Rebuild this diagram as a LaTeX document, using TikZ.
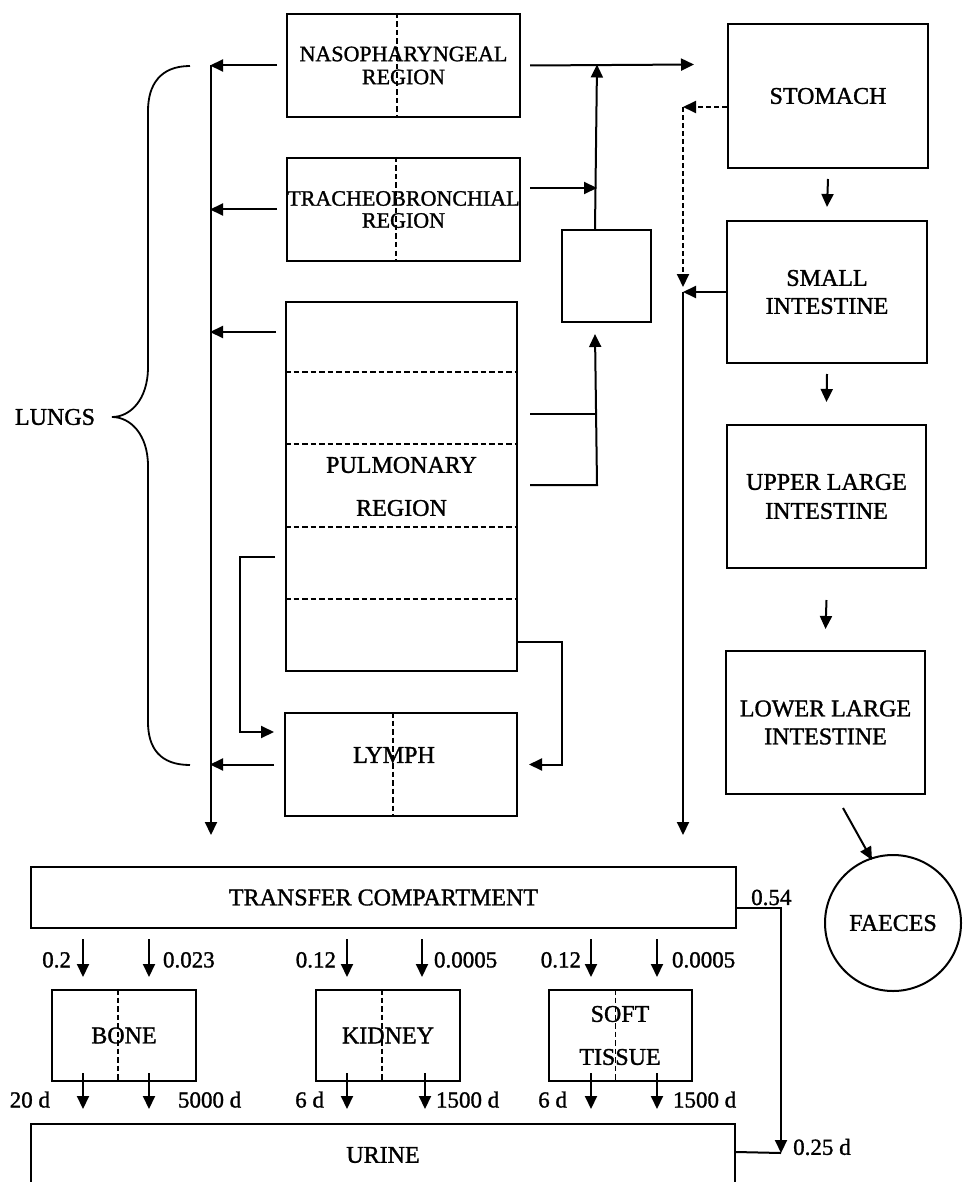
\documentclass[tikz,border=0pt]{standalone}
\usepackage{fontspec}
\setmainfont[FakeBold=1.3]{Liberation Serif}
\usetikzlibrary{arrows.meta,calc}
\begin{document}
\begin{tikzpicture}[x=1pt,y=-1pt,
  every node/.style={inner sep=0pt},
  box/.style={draw, line width=2pt, rectangle, inner sep=0pt, align=center, font=\fontsize{24}{28}\selectfont},
  ctext/.style={align=center, font=\fontsize{24}{28}\selectfont},
  arr/.style={line width=2pt, -{Triangle[length=13pt,width=12pt]}},
  conn/.style={line width=2pt},
  div/.style={line width=1.8pt, dash pattern=on 5.5pt off 3pt},
  darr/.style={arr, dash pattern=on 5pt off 3pt},
  lbl/.style={font=\fontsize{23}{27}\selectfont},
]
\path[use as bounding box] (0,0) rectangle (962,1182);
\clip (0,0) rectangle (962,1182);

% ---- lung compartments
\node[box, minimum width=233pt, minimum height=103pt, font=\fontsize{22}{23}\selectfont] (naso) at (403.5,65.5) {NASOPHARYNGEAL\\REGION};
\node[box, minimum width=233pt, minimum height=103pt, font=\fontsize{22}{22}\selectfont] (trach) at (403.5,209.5) {TRACHEOBRONCHIAL\\REGION};
\node[box, minimum width=231pt, minimum height=369pt, font=\fontsize{24}{43}\selectfont] (pulm) at (401.5,486.5) {PULMONARY\\REGION};
\node[box, minimum width=232pt, minimum height=103pt] (lymph) at (401,764.5) {};
\node[ctext] (lymphT) at ($(lymph.center)+(-7,-9.5)$) {LYMPH};
\node[box, minimum width=89pt, minimum height=92pt] (sbox) at (606.5,276) {};

% ---- GI tract
\node[box, minimum width=200pt, minimum height=144pt] (stomach) at (828,96) {STOMACH};
\node[box, minimum width=200pt, minimum height=142pt] (smallint) at (827,292) {SMALL\\INTESTINE};
\node[box, minimum width=199pt, minimum height=143pt, font=\fontsize{24}{29}\selectfont] (upper) at (826.5,496.5) {UPPER LARGE\\INTESTINE};
\node[box, minimum width=199pt, minimum height=143pt] (lower) at (825.5,722.5) {LOWER LARGE\\INTESTINE};
\node[box, circle, minimum size=136pt] (faeces) at (893,923) {FAECES};

% ---- systemic
\node[box, minimum width=705pt, minimum height=61pt] (transfer) at (383.5,897.5) {TRANSFER COMPARTMENT};
\node[box, minimum width=144pt, minimum height=91pt] (bone) at (124,1035.5) {BONE};
\node[box, minimum width=144pt, minimum height=91pt] (kidney) at (388,1035.5) {KIDNEY};
\node[box, minimum width=143pt, minimum height=91pt, font=\fontsize{24}{43}\selectfont] (soft) at (620,1035.5) {SOFT\\TISSUE};
\node[box, minimum width=704pt, minimum height=62pt] (urine) at (383,1155) {URINE};

% ---- dividers
\draw[div] ($(naso.north)+(-6.5,0)$) -- ($(naso.south)+(-6.5,0)$);
\draw[div] ($(trach.north)+(-7.5,0)$) -- ($(trach.south)+(-7.5,0)$);
\draw[div] ($(lymph.north)+(-8,0)$) -- ($(lymph.south)+(-8,0)$);
\foreach \d in {71,143,226,298}
  \draw[div] ($(pulm.north west)+(0,\d)$) -- ($(pulm.north east)+(0,\d)$);
\draw[div] ($(bone.north)+(-6,0)$) -- ($(bone.south)+(-6,0)$);
\draw[div] ($(kidney.north)+(-6,0)$) -- ($(kidney.south)+(-6,0)$);
\draw[div] ($(soft.north)+(-4.5,0)$) -- ($(soft.south)+(-4.5,0)$);

% ---- brace and LUNGS
\draw[conn, line width=1.8pt] (190,66) .. controls (160,66) and (148,85) .. (148,111) -- (148,367)
  .. controls (148,400) and (130,417) .. (112,417)
  .. controls (130,417) and (148,434) .. (148,466) -- (148,722)
  .. controls (148,748) and (160,765) .. (190,765);
\node[ctext] (lungs) at (55,417) {LUNGS};

% ---- left collecting line
\coordinate (lvtop) at (211,65.5);
\coordinate (lvbot) at (211,835);
\draw[arr] (lvtop) -- (lvbot);
\draw[arr] ($(naso.west)+(-9,0)$) -- ++(-67,0);
\draw[arr] ($(trach.west)+(-9,0)$) -- ++(-67,0);
\draw[arr] ($(pulm.north west)+(-9,31)$) -- ++(-66,0);
\draw[arr] ($(lymph.west)+(-10,0)$) -- ++(-64,0);

% ---- pulmonary to lymph
\draw[arr] ($(pulm.north west)+(-10,256)$) -- ++(-35,0) |- ($(lymph.north west)+(-10,20)$);
\draw[arr] ($(pulm.south east)+(0,-30)$) -- ++(44,0) |- ($(lymph.east)+(11,0)$);

% ---- clearance to GI tract
\draw[conn] ($(pulm.north east)+(12,113)$) -- ++(67,0);
\draw[arr] ($(pulm.north east)+(12,184)$) -- ++(67,0) -- ($(sbox.south west)+(34,11)$);
\draw[arr] ($(sbox.north west)+(34,0)$) -- ($(naso.north east)+(76,51.5)$);
\draw[arr] ($(trach.east)+(9,-21.5)$) -- ++(67,0);
\draw[arr] ($(naso.east)+(9,0)$) -- ($(stomach.north west)+(-33,41.5)$);

% ---- GI chain
\draw[arr] ([yshift=-10pt]stomach.south) -- ([yshift=13pt]smallint.north);
\draw[arr] ([yshift=-10pt]smallint.south) -- ([yshift=22pt]upper.north);
\draw[arr] ([yshift=-31pt]upper.south) -- ([yshift=21pt]lower.north);
\draw[arr] ($(lower.south)+(17.5,13)$) -- ($(faeces.center)+(-21,-63)$);

% ---- right collecting line
\coordinate (dj) at (683,107);
\coordinate (rvtop) at (683,292);
\coordinate (rvbot) at (683,835);
\draw[darr] ($(stomach.west)+(0,11)$) -- (dj);
\draw[darr] (dj) -- (683,287);
\draw[arr] (smallint.west) -- (rvtop);
\draw[arr] (rvtop) -- (rvbot);

% ---- transfer to organs
\draw[arr] ($(transfer.south west)+(53,10)$) -- ($(bone.north west)+(32,-12)$) node[lbl, pos=0.55, left=11pt] (t1) {0.2};
\draw[arr] ($(transfer.south west)+(119,10)$) -- ($(bone.north west)+(98,-12)$) node[lbl, pos=0.55, right=13pt] (t2) {0.023};
\draw[arr] ($(transfer.south west)+(317,10)$) -- ($(kidney.north west)+(32,-12)$) node[lbl, pos=0.55, left=10pt] (t3) {0.12};
\draw[arr] ($(transfer.south west)+(392,10)$) -- ($(kidney.north west)+(107,-12)$) node[lbl, pos=0.55, right=11pt] (t4) {0.0005};
\draw[arr] ($(transfer.south west)+(561,10)$) -- ($(soft.north west)+(43.5,-12)$) node[lbl, pos=0.55, left=9pt] (t5) {0.12};
\draw[arr] ($(transfer.south west)+(627,10)$) -- ($(soft.north west)+(109.5,-12)$) node[lbl, pos=0.55, right=14pt] (t6) {0.0005};

% ---- organs to urine
\draw[arr] ($(bone.south west)+(32,-9)$) -- ($(urine.north west)+(53,-14)$) node[lbl, pos=0.74, left=32pt] (b1) {20 d};
\draw[arr] ($(bone.south west)+(98,-9)$) -- ($(urine.north west)+(119,-14)$) node[lbl, pos=0.74, right=28pt] (b2) {5000 d};
\draw[arr] ($(kidney.south west)+(32,-9)$) -- ($(urine.north west)+(317,-14)$) node[lbl, pos=0.74, left=22pt] (b3) {6 d};
\draw[arr] ($(kidney.south west)+(110,-9)$) -- ($(urine.north west)+(395,-14)$) node[lbl, pos=0.74, right=10pt] (b4) {1500 d};
\draw[arr] ($(soft.south west)+(43.5,-9)$) -- ($(urine.north west)+(561,-14)$) node[lbl, pos=0.74, left=23pt] (b5) {6 d};
\draw[arr] ($(soft.south west)+(109.5,-9)$) -- ($(urine.north west)+(627,-14)$) node[lbl, pos=0.74, right=15pt] (b6) {1500 d};

% ---- transfer direct to urine
\coordinate (ub) at (781,1153);
\draw[arr] ($(transfer.east)+(0,10.5)$) -| (ub);
\draw[conn] ($(urine.north east)+(0,29)$) -- (ub);
\node[lbl, anchor=south west] (l054) at ($(transfer.east)+(14,8)$) {0.54};
\node[lbl, anchor=west] (l025) at ($(ub)+(12,-6)$) {0.25 d};
\end{tikzpicture}
\end{document}
